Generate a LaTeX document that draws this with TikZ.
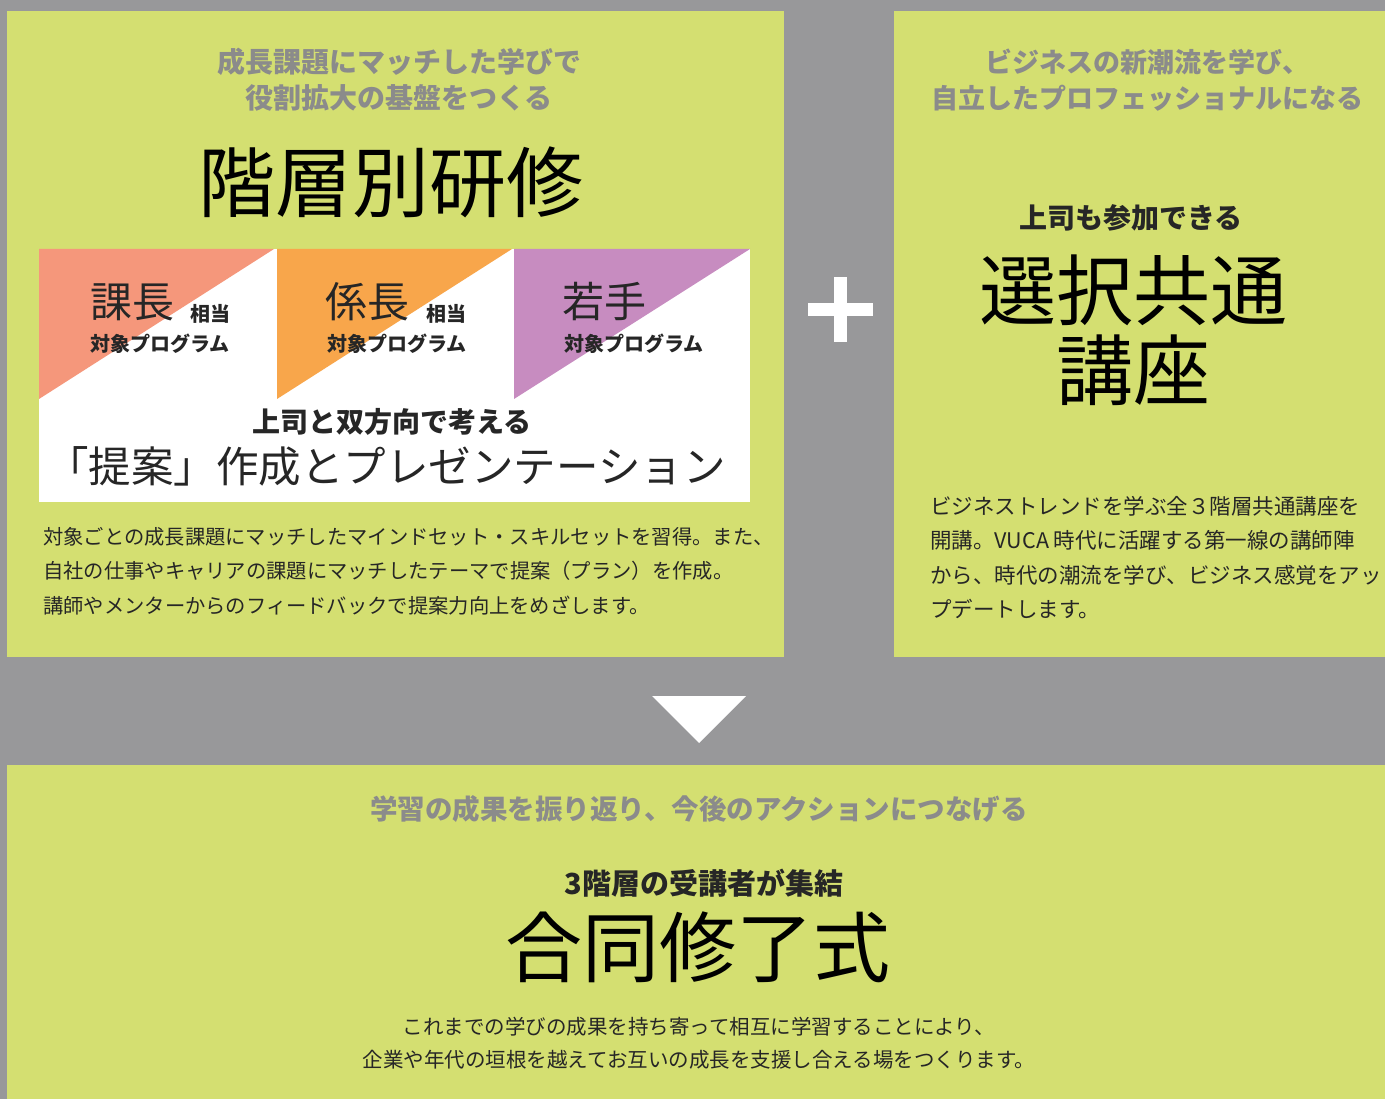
\documentclass[tikz,border=0pt]{standalone}
\usepackage{fontspec}
\setmainfont{Noto Sans CJK JP}
\usepackage{xcolor}
\usepackage{tikz}
\usetikzlibrary{calc, positioning}
\definecolor{bggray}{HTML}{98989A}
\definecolor{panelgreen}{HTML}{D4DF71}
\definecolor{salmon}{HTML}{F5977B}
\definecolor{amber}{HTML}{F8A64B}
\definecolor{lilac}{HTML}{C78CC0}
\definecolor{subgray}{HTML}{8B8B8B}
\definecolor{ink}{HTML}{262626}
\tikzset{
    panel/.style={fill=panelgreen, draw=none},
    sign/.style={fill=white, draw=none},
    subhead/.style={font=\bfseries\fontsize{27}{36}\selectfont, color=subgray, align=center, inner sep=0pt},
    bighead/.style={font=\fontsize{77}{80}\selectfont, color=black, align=center, inner sep=0pt},
    lead/.style={font=\bfseries\fontsize{28}{32}\selectfont, color=ink, inner sep=0pt},
    rank/.style={font=\fontsize{42}{46}\selectfont, color=ink, anchor=base west, inner sep=0pt},
    ranktag/.style={font=\bfseries\fontsize{20}{24}\selectfont, color=ink, anchor=base west, inner sep=0pt},
    pitch/.style={font=\fontsize{42.5}{46}\selectfont, color=ink, inner sep=0pt},
    body/.style={font=\fontsize{20.3}{34.6}\selectfont, color=ink, align=left, inner sep=0pt},
    bodyc/.style={font=\fontsize{20.5}{33}\selectfont, color=ink, align=center, inner sep=0pt}
}
\begin{document}
\begin{tikzpicture}[x=1pt, y=-1pt]
        \fill[bggray] (0,0) rectangle (1385,1099);
        \useasboundingbox (0,0) rectangle (1385,1099);

        % three panels
        \fill[panel] (7,11) rectangle (784,657);
        \fill[panel] (894,11) rectangle (1385,657);
        \fill[panel] (7,765) rectangle (1385,1099);

        % left panel: layered training
        \node[subhead, font=\bfseries\fontsize{28}{36}\selectfont] (LeftSub) at (399,80) {成長課題にマッチした学びで\\役割拡大の基盤をつくる};
        \node[bighead] (LeftTitle) at (391,182) {階層別研修};

        \fill[white] (39,249) rectangle (750,502);
        \fill[salmon] (39,249) -- (274,249) -- (39,399) -- cycle;
        \fill[amber] (277,249) -- (512,249) -- (277,399) -- cycle;
        \fill[lilac] (514,249) -- (750,249) -- (514,399) -- cycle;

        \node[rank] (Kacho) at (90,318) {課長};
        \node[ranktag] (KachoTag) at ($(Kacho.base east)+(16,4)$) {相当};
        \node[ranktag] (KachoProg) at (90,352) {対象プログラム};

        \node[rank] (Kakaricho) at (325,318) {係長};
        \node[ranktag] (KakarichoTag) at ($(Kakaricho.base east)+(17,4)$) {相当};
        \node[ranktag] (KakarichoProg) at (327,352) {対象プログラム};

        \node[rank] (Wakate) at (562,318) {若手};
        \node[ranktag] (WakateProg) at (564,352) {対象プログラム};

        \node[lead] (BossTalk) at (392,422) {上司と双方向で考える};
        \node[pitch] (Pitch) at (386,466) {「提案」作成とプレゼンテーション};

        \node[body, anchor=north west] (LeftBody) at (43,527) {対象ごとの成長課題にマッチしたマインドセット・スキルセットを習得。また、\\自社の仕事やキャリアの課題にマッチしたテーマで提案（プラン）を作成。\\講師やメンターからのフィードバックで提案力向上をめざします。};

        % right panel: common courses
        \node[subhead] (RightSub) at (1147,80) {ビジネスの新潮流を学び、\\自立したプロフェッショナルになる};
        \node[lead] (RightLead) at (1131,218) {上司も参加できる};
        \node[bighead] (RightTitle) at (1133,330) {選択共通\\講座};
        \node[body, anchor=north west, font=\fontsize{21.5}{34.4}\selectfont] (RightBody) at (930,496) {ビジネストレンドを学ぶ全３階層共通講座を\\開講。VUCA 時代に活躍する第一線の講師陣\\から、時代の潮流を学び、ビジネス感覚をアッ\\プデートします。};

        % plus sign
        \coordinate (Plus) at (840.5,309.5);
        \fill[sign] ($(Plus)+(-32.5,-6.5)$) rectangle ($(Plus)+(32.5,6.5)$);
        \fill[sign] ($(Plus)+(-6.5,-32.5)$) rectangle ($(Plus)+(6.5,32.5)$);

        % down arrow
        \fill[sign] (652,696) -- (746,696) -- (699,743) -- cycle;

        % bottom panel: closing ceremony
        \node[subhead, font=\bfseries\fontsize{27.5}{36}\selectfont] (BottomSub) at (699,809) {学習の成果を振り返り、今後のアクションにつなげる};
        \node[lead, font=\bfseries\fontsize{29}{32}\selectfont] (BottomLead) at (704,883) {3階層の受講者が集結};
        \node[bighead] (BottomTitle) at (698,947) {合同修了式};
        \node[bodyc] (BottomBody) at (699,1043) {これまでの学びの成果を持ち寄って相互に学習することにより、\\企業や年代の垣根を越えてお互いの成長を支援し合える場をつくります。};
    \end{tikzpicture}
\end{document}
